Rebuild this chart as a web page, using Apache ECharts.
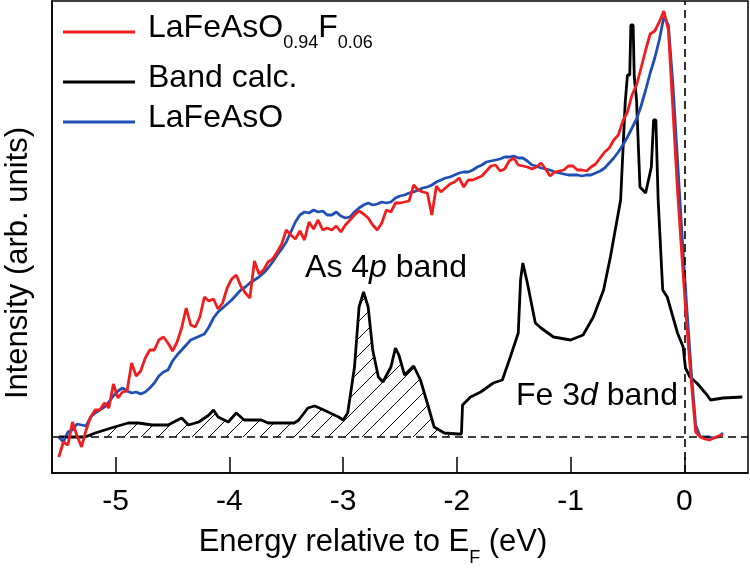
<!DOCTYPE html>
<html><head><meta charset="utf-8">
<script src="https://cdn.jsdelivr.net/npm/echarts@6/dist/echarts.min.js"></script>
<style>html,body{margin:0;padding:0;background:#fff}#c{width:750px;height:569px}</style>
</head><body><div id="c"></div>
<script>
// Energy grid of the photoemission spectra (eV relative to E_F)
const energy = [
-5.50,-5.46,-5.42,-5.38,-5.34,-5.30,-5.26,-5.22,-5.18,-5.14,
-5.10,-5.06,-5.02,-4.98,-4.94,-4.90,-4.86,-4.82,-4.78,-4.74,
-4.70,-4.66,-4.62,-4.58,-4.54,-4.50,-4.46,-4.42,-4.38,-4.34,
-4.30,-4.26,-4.22,-4.18,-4.14,-4.10,-4.06,-4.02,-3.98,-3.94,
-3.90,-3.86,-3.82,-3.78,-3.74,-3.70,-3.66,-3.62,-3.58,-3.54,
-3.50,-3.46,-3.42,-3.38,-3.34,-3.30,-3.26,-3.22,-3.18,-3.14,
-3.10,-3.06,-3.02,-2.98,-2.94,-2.90,-2.86,-2.82,-2.78,-2.74,
-2.70,-2.66,-2.62,-2.58,-2.54,-2.50,-2.46,-2.42,-2.38,-2.34,
-2.30,-2.26,-2.22,-2.18,-2.14,-2.10,-2.06,-2.02,-1.98,-1.94,
-1.90,-1.86,-1.82,-1.78,-1.74,-1.70,-1.66,-1.62,-1.58,-1.54,
-1.50,-1.46,-1.42,-1.38,-1.34,-1.30,-1.26,-1.22,-1.18,-1.14,
-1.10,-1.06,-1.02,-0.98,-0.94,-0.90,-0.86,-0.82,-0.78,-0.74,
-0.70,-0.66,-0.62,-0.58,-0.54,-0.50,-0.46,-0.42,-0.38,-0.34,
-0.30,-0.26,-0.22,-0.18,-0.14,-0.10,-0.06,-0.02,0.02,0.06,
0.10,0.14,0.18,0.22,0.26,0.30,0.34];

// LaFeAsO0.94F0.06 intensity (arb. units)
const dopedIntensity = [
-20,-5,-8,15,1,-10,7,20,27,27,
34,29,53,39,45,46,74,61,66,79,
87,87,97,100,94,86,95,109,129,112,
110,120,140,136,138,128,134,149,158,162,
151,144,139,176,163,167,175,178,185,193,
207,202,198,206,197,215,208,217,207,209,
207,211,205,212,217,222,226,223,219,212,
207,214,227,225,234,234,235,236,252,247,
245,244,222,251,245,249,253,255,259,250,
257,257,259,261,266,271,272,266,268,276,
279,272,271,270,268,270,274,268,261,265,
266,267,271,271,267,267,266,270,273,279,
285,289,297,302,316,325,342,352,369,387,
403,406,415,426,407,327,247,179,114,57,
5,0,-2,-3,-1,1,2];

// LaFeAsO intensity (arb. units)
const parentIntensity = [
0,-5,5,7,13,12,11,20,24,27,
30,35,41,46,49,46,44,45,43,45,
49,54,61,65,67,76,82,87,92,97,
99,101,103,110,119,125,129,133,137,142,
147,150,154,157,160,164,169,175,182,188,
195,205,215,222,225,224,227,225,226,222,
222,225,221,219,220,225,229,232,234,232,
233,235,234,235,239,241,242,244,245,247,
249,250,252,255,257,259,260,262,264,265,
265,267,270,272,275,276,277,278,280,280,
281,279,279,276,272,271,269,268,267,265,
264,263,262,262,262,261,262,262,264,266,
269,274,279,285,292,300,309,318,331,347,
364,379,397,420,412,352,277,202,132,67,
12,0,0,0,-1,0,4];

// Band calculation DOS: [energy (eV), intensity]
const bandCalc = [
[-5.50,0],[-5.27,0],[-5.18,4],[-5.04,9],[-4.89,14],[-4.80,14],[-4.68,12],[-4.54,12],
[-4.42,19],[-4.36,12],[-4.27,15],[-4.18,22],[-4.14,27],[-4.10,20],[-4.01,15],[-3.94,24],
[-3.87,17],[-3.72,17],[-3.66,14],[-3.52,14],[-3.43,14],[-3.39,17],[-3.31,29],[-3.25,31],
[-3.17,27],[-3.04,20],[-3.00,17],[-2.96,24],[-2.90,70],[-2.86,130],[-2.82,145],[-2.78,130],
[-2.74,87],[-2.69,60],[-2.65,55],[-2.58,70],[-2.54,89],[-2.51,82],[-2.46,62],[-2.38,71],
[-2.32,57],[-2.25,30],[-2.20,10],[-2.11,4],[-1.99,3],[-1.96,3],[-1.95,32],[-1.88,40],
[-1.79,45],[-1.68,54],[-1.60,57],[-1.53,80],[-1.46,104],[-1.44,157],[-1.42,174],[-1.38,154],
[-1.31,114],[-1.26,109],[-1.15,100],[-1.00,97],[-0.89,102],[-0.80,120],[-0.71,147],[-0.65,180],
[-0.56,237],[-0.52,334],[-0.50,362],[-0.48,362],[-0.47,412],[-0.45,412],[-0.44,360],[-0.42,337],
[-0.39,250],[-0.34,244],[-0.29,270],[-0.27,317],[-0.25,317],[-0.23,237],[-0.19,147],[-0.15,140],
[-0.06,104],[-0.01,90],[0.01,69],[0.05,60],[0.11,54],[0.20,42],[0.23,37],[0.34,39],[0.51,40]];

const hatchLimit = -1.96; // As 4p band region (hatched)
const xTicks = [-5,-4,-3,-2,-1,0];
const seriesNames = ['LaFeAsO0.94F0.06','Band calc.','LaFeAsO'];

const FONT = 'Liberation Sans, Arial, sans-serif';

function hatchPattern(){
  const s = 17, c = document.createElement('canvas');
  c.width = s; c.height = s;
  const g = c.getContext('2d');
  g.strokeStyle = '#000'; g.lineWidth = 1;
  g.beginPath();
  g.moveTo(0, s); g.lineTo(s, 0);
  g.moveTo(-2, 2); g.lineTo(2, -2);
  g.moveTo(s-2, s+2); g.lineTo(s+2, s-2);
  g.stroke();
  return c;
}

const legendRich = {
  f: {fontSize: 32, fontFamily: FONT, color: '#000', padding: [0,0,0,8], lineHeight: 40, verticalAlign: 'top'},
  n: {fontSize: 32, fontFamily: FONT, color: '#000', lineHeight: 40, verticalAlign: 'top'},
  s: {fontSize: 18, fontFamily: FONT, color: '#000', lineHeight: 18, verticalAlign: 'bottom'}
};
function legendFmt(name){
  if (name === seriesNames[0]) return '{f|LaFeAsO}{s|0.94}{n|F}{s|0.06}';
  return '{f|' + name + '}';
}
const legendTops = [12, 62, 102];

const chart = echarts.init(document.getElementById('c'), null, {renderer: 'canvas'});
chart.setOption({
  animation: false,
  backgroundColor: '#fff',
  grid: {left: 52, right: 2, top: 1, bottom: 96, show: true, borderColor: '#000', borderWidth: 1.5, backgroundColor: 'transparent'},
  xAxis: {
    type: 'value', min: -5.56, max: 0.56,
    axisLine: {show: true, onZero: false, lineStyle: {color: '#000', width: 1.5}},
    axisTick: {show: true, inside: true, length: 16, customValues: xTicks, lineStyle: {color: '#000', width: 1.5}},
    axisLabel: {show: true, customValues: xTicks, margin: 14, fontSize: 30, fontFamily: FONT, color: '#000'},
    splitLine: {show: false}
  },
  yAxis: {
    type: 'value', min: -36, max: 436,
    axisLine: {show: true, onZero: false, lineStyle: {color: '#000', width: 1.5}},
    axisTick: {show: false}, axisLabel: {show: false}, splitLine: {show: false}
  },
  legend: seriesNames.map((n, i) => ({
    data: [n], left: 63, top: legendTops[i], orient: 'horizontal', padding: 0,
    icon: 'rect', itemWidth: 72, itemHeight: 3, selectedMode: false,
    textStyle: {fontFamily: FONT, fontSize: 32, color: '#000', rich: legendRich},
    formatter: legendFmt
  })),
  graphic: [
    {type: 'text', x: 18, y: 263, rotation: Math.PI / 2,
      style: {text: 'Intensity (arb. units)', font: '31px ' + FONT, fill: '#000', align: 'center', verticalAlign: 'middle'}},
    {type: 'text', x: 373, y: 547,
      style: {text: '{n|Energy relative to E}{s|F}{n| (eV)}', align: 'center', verticalAlign: 'middle',
        rich: {n: {fontSize: 31, fontFamily: FONT, fill: '#000', color: '#000', lineHeight: 40, verticalAlign: 'top'},
               s: {fontSize: 18, fontFamily: FONT, fill: '#000', color: '#000', lineHeight: 18, verticalAlign: 'bottom'}}}},
    {type: 'text', x: 386, y: 268,
      style: {text: '{n|As 4}{i|p}{n| band}', align: 'center', verticalAlign: 'middle',
        rich: {n: {fontSize: 32, fontFamily: FONT, color: '#000'}, i: {fontSize: 32, fontFamily: FONT, fontStyle: 'italic', color: '#000'}}}},
    {type: 'text', x: 597, y: 396,
      style: {text: '{n|Fe 3}{i|d}{n| band}', align: 'center', verticalAlign: 'middle',
        rich: {n: {fontSize: 32, fontFamily: FONT, color: '#000'}, i: {fontSize: 32, fontFamily: FONT, fontStyle: 'italic', color: '#000'}}}}
  ],
  series: [
    {
      name: 'hatch', type: 'line', data: bandCalc.filter(p => p[0] <= hatchLimit),
      symbol: 'none', silent: true, z: 1,
      lineStyle: {width: 0, opacity: 0},
      areaStyle: {color: {image: hatchPattern(), repeat: 'repeat'}, opacity: 1}
    },
    {
      name: seriesNames[1], type: 'line', data: bandCalc, symbol: 'none', z: 3,
      lineStyle: {color: '#000', width: 2.8}, itemStyle: {color: '#000'},
      markLine: {
        silent: true, symbol: 'none', label: {show: false},
        lineStyle: {color: '#000', type: [8, 5], width: 1.6},
        data: [{yAxis: 0}, {xAxis: 0}]
      }
    },
    {
      name: seriesNames[2], type: 'line', data: energy.map((e, i) => [e, parentIntensity[i]]),
      symbol: 'none', z: 4, lineStyle: {color: '#1f4fb4', width: 2.8}, itemStyle: {color: '#1f4fb4'}
    },
    {
      name: seriesNames[0], type: 'line', data: energy.map((e, i) => [e, dopedIntensity[i]]),
      symbol: 'none', z: 5, lineStyle: {color: '#f01e1e', width: 2.8}, itemStyle: {color: '#f01e1e'}
    }
  ]
});
</script>
</body></html>
